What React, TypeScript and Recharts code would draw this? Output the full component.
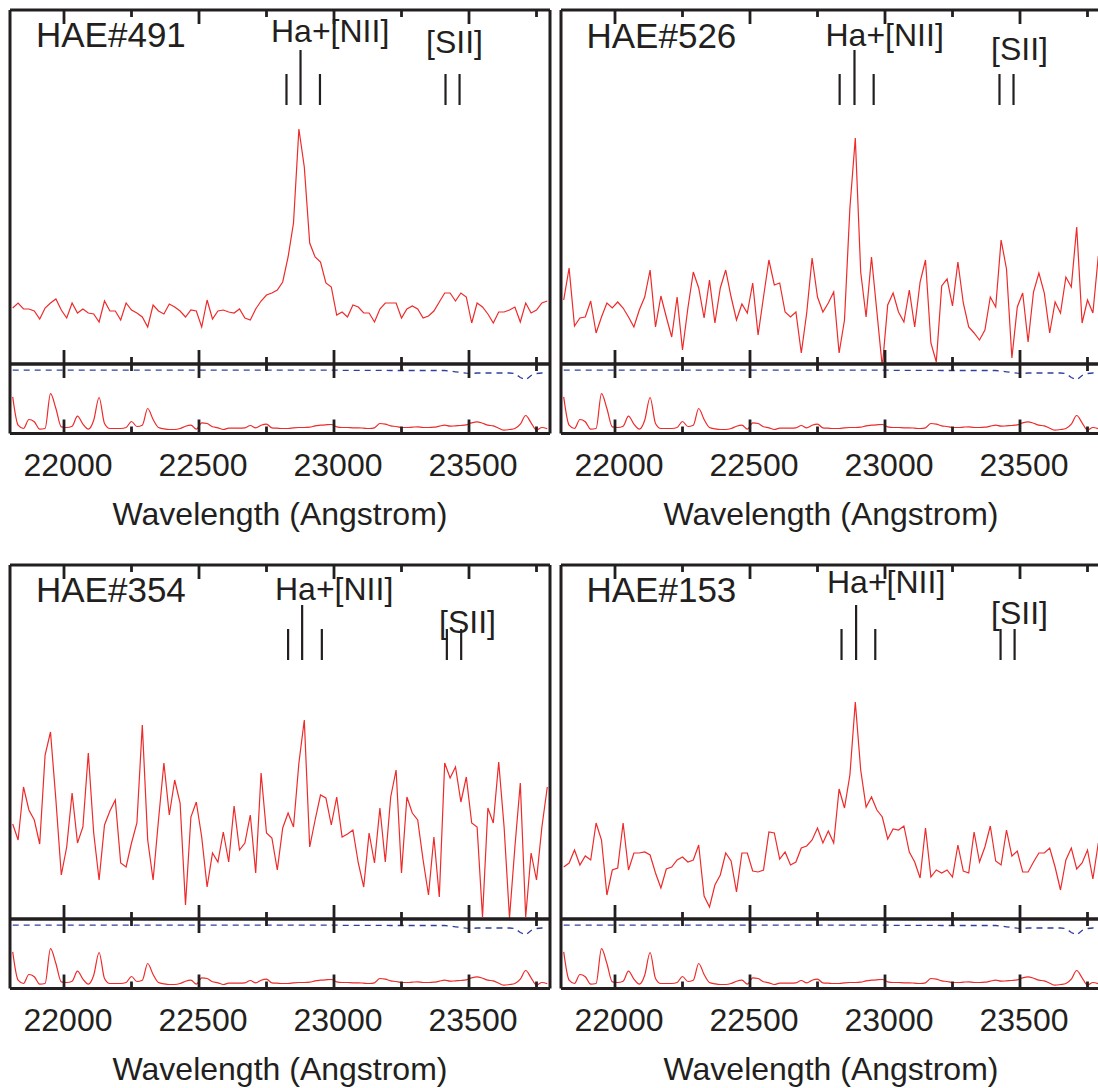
import React from 'react';
import { LineChart, Line, XAxis, YAxis, ReferenceLine, Label } from 'recharts';

// wavelength sampling of the spectra (Angstrom)
const WAVE_START = 21810;
const WAVE_STEP = 20;

// main-panel flux (arbitrary units), one value per sample
const HAE491 = [
  5.6, 6.1, 5.5, 5.5, 5.3, 4.5, 5.6, 6.1, 6.5, 5.4,
  4.6, 6.1, 5.1, 5.5, 5.1, 5.0, 4.2, 6.3, 5.3, 5.3,
  4.4, 6.1, 5.4, 5.1, 4.7, 3.7, 5.9, 5.3, 5.0, 6.0,
  5.7, 5.3, 4.7, 5.4, 5.3, 3.7, 6.4, 4.5, 5.3, 5.4,
  5.2, 5.1, 5.5, 4.6, 4.4, 5.5, 6.3, 6.9, 7.1, 7.4,
  8.2, 10.7, 14.1, 23.5, 19.7, 12.1, 10.7, 10.2, 8.1, 7.7,
  4.9, 5.2, 4.7, 5.9, 5.7, 5.1, 5.1, 4.2, 5.5, 6.1,
  6.1, 6.1, 4.6, 5.5, 5.8, 5.5, 4.6, 4.8, 5.3, 6.2,
  7.1, 7.1, 6.3, 7.1, 6.7, 4.1, 6.1, 5.7, 5.0, 4.1,
  5.2, 5.2, 5.4, 5.7, 4.2, 6.1, 5.1, 5.4, 6.1, 6.3,
];
const HAE526 = [
  6.4, 9.6, 3.8, 4.6, 4.7, 6.3, 3.1, 4.7, 6.1, 5.6,
  6.2, 5.6, 4.7, 3.7, 5.4, 6.7, 9.4, 3.7, 6.8, 4.7,
  2.7, 6.7, 1.4, 5.6, 9.2, 7.6, 4.6, 8.4, 4.1, 7.6,
  9.4, 6.7, 4.4, 6.0, 5.1, 8.1, 2.9, 6.7, 10.4, 7.9,
  8.1, 5.2, 4.7, 5.2, 1.1, 5.1, 10.6, 6.7, 5.2, 6.1,
  7.2, 1.1, 4.4, 15.6, 22.6, 9.2, 4.7, 10.7, 5.2, -0.3,
  5.9, 7.1, 5.2, 4.2, 7.4, 3.7, 8.2, 10.4, 2.1, 0.2,
  7.8, 8.5, 5.8, 10.2, 6.1, 3.7, 3.1, 2.4, 3.4, 6.7,
  5.7, 12.4, 9.5, 0.6, 5.7, 7.1, 2.2, 7.2, 9.1, 7.1,
  3.1, 6.2, 5.1, 8.7, 7.7, 13.7, 4.1, 6.4, 5.1, 10.8,
];
const HAE354 = [
  9.5, 7.9, 13.2, 10.9, 9.9, 7.5, 16.4, 18.7, 11.9, 4.4,
  7.2, 12.6, 7.6, 9.2, 16.6, 8.6, 3.9, 9.4, 10.8, 11.9,
  5.6, 5.2, 7.6, 9.6, 19.4, 7.9, 3.9, 9.9, 15.6, 10.4,
  13.9, 11.6, 1.4, 10.2, 11.7, 8.2, 3.2, 6.6, 5.7, 8.7,
  5.7, 11.3, 6.9, 7.6, 10.4, 4.6, 14.6, 8.6, 8.1, 4.9,
  9.1, 10.6, 9.2, 15.6, 19.9, 7.2, 9.9, 12.4, 12.1, 9.4,
  12.2, 8.2, 8.5, 8.9, 5.6, 3.2, 8.6, 5.6, 11.1, 5.7,
  12.2, 14.9, 4.6, 12.2, 10.6, 9.9, 5.9, 2.4, 8.2, 2.2,
  15.6, 14.1, 15.2, 11.7, 14.2, 9.6, 9.2, 0.2, 11.1, 9.6,
  15.7, 9.2, 0.1, 7.2, 13.6, 0.2, 6.6, 3.9, 9.2, 13.2,
];
const HAE153 = [
  5.2, 5.6, 6.9, 5.4, 6.3, 5.9, 9.6, 7.9, 2.4, 4.9,
  5.1, 9.6, 4.9, 6.6, 6.6, 6.7, 6.4, 4.6, 3.1, 5.0,
  5.2, 5.9, 6.2, 5.7, 5.9, 7.4, 2.3, 1.2, 3.4, 4.4,
  6.6, 5.8, 2.7, 6.6, 6.6, 4.8, 4.7, 4.9, 8.7, 8.6,
  6.0, 6.7, 5.4, 5.7, 7.1, 7.3, 7.9, 9.1, 7.6, 8.8,
  7.6, 13.0, 11.1, 14.4, 21.7, 14.9, 11.2, 12.2, 10.9, 10.2,
  8.0, 9.0, 8.9, 9.3, 6.7, 5.7, 4.1, 9.1, 4.2, 4.9,
  4.6, 4.9, 4.2, 7.4, 4.8, 4.6, 8.7, 5.7, 7.2, 9.3,
  5.8, 5.4, 8.9, 6.3, 6.8, 4.7, 4.7, 5.7, 6.6, 6.6,
  7.1, 5.2, 2.9, 5.9, 7.1, 5.0, 5.6, 6.9, 4.0, 7.6,
];

// lower panel: noise spectrum (red) and transmission (blue dashed)
const SKY_NOISE = [
  3.66, 0.83, 0.5, 1.4, 1.17, 0.43, 0.5, 3.99, 2.5, 0.67,
  0.6, 0.73, 1.73, 0.93, 0.43, 1.33, 3.6, 1.0, 0.5, 0.5,
  0.5, 0.6, 1.2, 0.7, 0.83, 2.5, 1.4, 0.6, 0.47, 0.4,
  0.4, 0.5, 0.73, 0.83, 0.43, 1.07, 1.0, 0.67, 0.57, 0.4,
  0.53, 0.53, 0.53, 0.57, 0.8, 0.57, 0.83, 0.93, 0.57, 0.53,
  0.5, 0.5, 0.57, 0.6, 0.6, 0.63, 0.77, 0.83, 0.87, 0.9,
  0.67, 0.6, 0.6, 0.57, 0.57, 0.53, 0.5, 0.57, 1.0, 0.93,
  0.77, 0.7, 0.6, 0.6, 0.63, 0.67, 0.6, 0.6, 0.63, 0.73,
  0.83, 0.73, 0.77, 0.8, 0.87, 1.07, 1.17, 1.03, 0.83, 0.77,
  0.53, 0.33, 0.4, 0.5, 0.93, 1.8, 1.07, 0.33, 0.6, 0.47,
];
const TRANSMISSION = [
  6.33, 6.33, 6.33, 6.33, 6.33, 6.33, 6.33, 6.33, 6.33, 6.33,
  6.33, 6.33, 6.33, 6.33, 6.33, 6.33, 6.33, 6.33, 6.33, 6.33,
  6.33, 6.33, 6.33, 6.33, 6.33, 6.33, 6.33, 6.33, 6.33, 6.33,
  6.33, 6.33, 6.33, 6.33, 6.33, 6.33, 6.33, 6.33, 6.33, 6.33,
  6.33, 6.33, 6.33, 6.33, 6.33, 6.33, 6.33, 6.33, 6.33, 6.33,
  6.33, 6.33, 6.33, 6.33, 6.33, 6.33, 6.33, 6.33, 6.33, 6.33,
  6.33, 6.32, 6.32, 6.32, 6.32, 6.32, 6.32, 6.32, 6.32, 6.32,
  6.3, 6.3, 6.3, 6.3, 6.3, 6.3, 6.3, 6.3, 6.3, 6.3,
  6.3, 6.25, 6.17, 6.1, 6.03, 6.0, 6.05, 6.05, 6.05, 6.05,
  6.05, 6.05, 6.05, 6.0, 5.6, 5.35, 5.8, 6.0, 6.05, 6.07,
];

const TICKS = [22000, 22250, 22500, 22750, 23000, 23250, 23500, 23750];
const LABELED_TICKS = [22000, 22500, 23000, 23500];

// observed positions of Ha+[NII] (middle = Ha) and [SII] markers
const HA_491 = [22824, 22876, 22948];
const SII_491 = [23413, 23465];
const HA_526 = [22832, 22887, 22958];
const SII_526 = [23424, 23476];
const HA_354 = [22830, 22882, 22955];
const SII_354 = [23418, 23471];
const HA_153 = [22839, 22893, 22964];
const SII_153 = [23428, 23480];

const X_DOMAIN: [number, number] = [21800, 23800];
const MAIN_DOMAIN: [number, number] = [0, 35.4];
const LOW_DOMAIN: [number, number] = [0, 6.95];
const PLOT_W = 540;
const MAIN_H = 354;
const LOW_H = 69.5;
const PAD = 6;
const AXIS_H = 110;

const INK = '#231f20';
const RED = '#ee2a2a';
const BLUE = '#2f3f9e';
const FONT = '"Liberation Sans", Arial, Helvetica, sans-serif';

const toRows = (vals: number[]) => vals.map((f, i) => ({ w: WAVE_START + i * WAVE_STEP, f }));
const lowRows = SKY_NOISE.map((n, i) => ({ w: WAVE_START + i * WAVE_STEP, n, t: TRANSMISSION[i] }));

const tickMark = (dir: number, withLabels: boolean) => (props: any) => {
  const { x, y, payload } = props;
  const major = LABELED_TICKS.includes(payload.value);
  const len = major ? 14 : 7;
  return (
    <g>
      <line x1={x} x2={x} y1={y} y2={y + dir * len} stroke={INK} strokeWidth={2.8} />
      {withLabels && major ? (
        <text x={x + 4} y={y + 42.5} textAnchor="middle" fontSize={32} fill={INK} fontFamily={FONT}>
          {payload.value}
        </text>
      ) : null}
    </g>
  );
};

const frame = { stroke: INK, strokeWidth: 3 };

interface PanelProps {
  name: string;
  flux: number[];
  ha: number[];
  sii: number[];
  left: number;
  top: number;
  nameAt: [number, number];
  haAt: [number, number];
  siiAt: [number, number];
}

const Panel = ({ flux, ha, sii, left, top }: PanelProps) => {
  const rows = toRows(flux);
  const sep = top + MAIN_H;
  return (
    <>
      <div style={{ position: 'absolute', left: left - PAD, top: top - PAD }}>
        <LineChart
          width={PLOT_W + 2 * PAD}
          height={MAIN_H + 2 * PAD}
          data={rows}
          margin={{ top: PAD, right: PAD, bottom: PAD, left: PAD }}
        >
          <XAxis xAxisId="t" orientation="top" mirror type="number" dataKey="w" domain={X_DOMAIN}
            ticks={TICKS} interval={0} allowDataOverflow tickSize={0} tickMargin={0} tickLine={false}
            tick={tickMark(1, false)} axisLine={frame} />
          <XAxis xAxisId="b" orientation="bottom" mirror type="number" dataKey="w" domain={X_DOMAIN}
            ticks={TICKS} interval={0} allowDataOverflow tickSize={0} tickMargin={0} tickLine={false}
            tick={tickMark(-1, false)} axisLine={frame} />
          <YAxis yAxisId="l" orientation="left" mirror domain={MAIN_DOMAIN} allowDataOverflow
            tick={false} tickLine={false} axisLine={frame} />
          <YAxis yAxisId="r" orientation="right" mirror domain={MAIN_DOMAIN} allowDataOverflow
            tick={false} tickLine={false} axisLine={frame} />
          {ha.map((w, k) => (
            <ReferenceLine key={`ha${k}`} xAxisId="b" yAxisId="l" stroke={INK} strokeWidth={2.2}
              segment={[{ x: w, y: 25.9 }, { x: w, y: k === 1 ? 31.4 : 29.0 }]} />
          ))}
          {sii.map((w, k) => (
            <ReferenceLine key={`s${k}`} xAxisId="b" yAxisId="l" stroke={INK} strokeWidth={2.2}
              segment={[{ x: w, y: 25.9 }, { x: w, y: 29.0 }]} />
          ))}
          <Line xAxisId="b" yAxisId="l" type="linear" dataKey="f" stroke={RED} strokeWidth={1.2}
            dot={false} isAnimationActive={false} />
        </LineChart>
      </div>
      <div style={{ position: 'absolute', left: left - PAD, top: sep - PAD }}>
        <LineChart
          width={PLOT_W + 2 * PAD}
          height={LOW_H + PAD + AXIS_H}
          data={lowRows}
          margin={{ top: PAD, right: PAD, bottom: 0, left: PAD }}
        >
          <XAxis xAxisId="t" orientation="top" mirror type="number" dataKey="w" domain={X_DOMAIN}
            ticks={TICKS} interval={0} allowDataOverflow tickSize={0} tickMargin={0} tickLine={false}
            tick={tickMark(1, false)} axisLine={frame} />
          <XAxis xAxisId="b" orientation="bottom" height={AXIS_H} type="number" dataKey="w" domain={X_DOMAIN}
            ticks={TICKS} interval={0} allowDataOverflow tickSize={0} tickMargin={0} tickLine={false}
            tick={tickMark(-1, true)} axisLine={frame}>
            <Label value="Wavelength (Angstrom)" position="insideTop" offset={69} fontSize={32}
              fill={INK} fontFamily={FONT} />
          </XAxis>
          <YAxis yAxisId="l" orientation="left" mirror domain={LOW_DOMAIN} allowDataOverflow
            tick={false} tickLine={false} axisLine={frame} />
          <YAxis yAxisId="r" orientation="right" mirror domain={LOW_DOMAIN} allowDataOverflow
            tick={false} tickLine={false} axisLine={frame} />
          <Line xAxisId="b" yAxisId="l" type="linear" dataKey="t" stroke={BLUE} strokeWidth={1.3}
            strokeDasharray="6 5" dot={false} isAnimationActive={false} />
          <Line xAxisId="b" yAxisId="l" type="monotone" dataKey="n" stroke={RED} strokeWidth={1.2}
            dot={false} isAnimationActive={false} />
        </LineChart>
      </div>
    </>
  );
};

const PANELS: PanelProps[] = [
  { name: 'HAE#491', flux: HAE491, ha: HA_491, sii: SII_491, left: 9.5, top: 10,
    nameAt: [36, 47], haAt: [271, 42], siiAt: [426, 53] },
  { name: 'HAE#526', flux: HAE526, ha: HA_526, sii: SII_526, left: 560.7, top: 10,
    nameAt: [586.5, 47.5], haAt: [825.5, 46], siiAt: [991, 60] },
  { name: 'HAE#354', flux: HAE354, ha: HA_354, sii: SII_354, left: 9.5, top: 565,
    nameAt: [36, 602], haAt: [275, 600], siiAt: [439, 633] },
  { name: 'HAE#153', flux: HAE153, ha: HA_153, sii: SII_153, left: 560.7, top: 565,
    nameAt: [586.5, 602], haAt: [827, 593], siiAt: [991, 624] },
];

export default function App() {
  return (
    <div
      style={{
        position: 'absolute',
        left: 0,
        top: 0,
        width: 1098,
        height: 1088,
        overflow: 'hidden',
        background: '#fff',
        fontFamily: FONT,
      }}
    >
      {PANELS.map((p) => (
        <Panel key={p.name} {...p} />
      ))}
      {/* object names and line identifications */}
      <svg width={1098} height={1088} style={{ position: 'absolute', left: 0, top: 0, pointerEvents: 'none' }}>
        {PANELS.map((p) => (
          <g key={p.name} fill={INK} fontFamily={FONT}>
            <text x={p.nameAt[0]} y={p.nameAt[1]} fontSize={35}>{p.name}</text>
            <text x={p.haAt[0]} y={p.haAt[1]} fontSize={32}>Ha+[NII]</text>
            <text x={p.siiAt[0]} y={p.siiAt[1]} fontSize={32}>[SII]</text>
          </g>
        ))}
      </svg>
    </div>
  );
}
